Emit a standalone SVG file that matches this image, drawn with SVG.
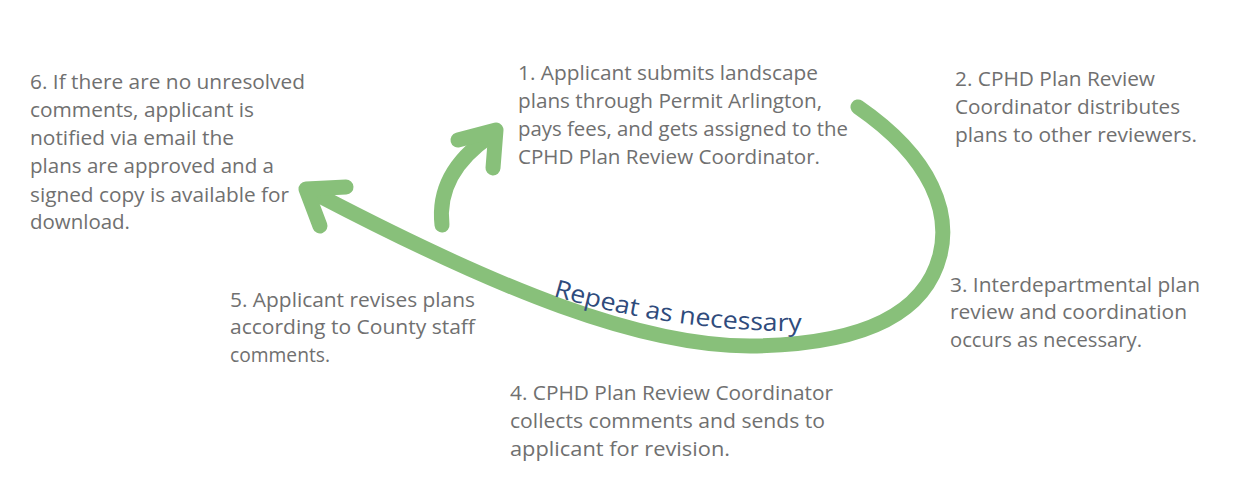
<svg xmlns="http://www.w3.org/2000/svg" width="1234" height="499" viewBox="0 0 1234 499">
<defs>
<style>
.t{font-family:"Open Sans","Liberation Sans",sans-serif;font-weight:400;font-size:20.5px;fill:#707070}
.arr{fill:none;stroke:#88c07a;stroke-width:15;stroke-linecap:round;stroke-linejoin:round}
.rep{font-family:"Open Sans","Liberation Sans",sans-serif;font-size:24.5px;fill:#2f4b7c}
</style>
<path id="repPath" d="M553,296 Q680,333 810,331"/>
</defs>
<rect width="1234" height="499" fill="#ffffff"/>
<g id="connectors">
<path class="arr" d="M858,107 C935,160 950,215 940,255 C925,315 860,345 750,346 C640,346 500,290 320,196"/>
<polyline class="arr" points="346,187 306,189 320,226"/>
<path class="arr" d="M442,225 C438,190 455,160 490,136"/>
<polyline class="arr" points="458,140 496,130 493,168"/>
<text class="rep"><textPath href="#repPath" textLength="252" lengthAdjust="spacingAndGlyphs">Repeat as necessary</textPath></text>
</g>
<g id="step1">
<text class="t" x="518" y="80" textLength="300" lengthAdjust="spacingAndGlyphs">1. Applicant submits landscape</text>
<text class="t" x="518" y="108" textLength="304" lengthAdjust="spacingAndGlyphs">plans through Permit Arlington,</text>
<text class="t" x="518" y="136" textLength="330" lengthAdjust="spacingAndGlyphs">pays fees, and gets assigned to the</text>
<text class="t" x="518" y="164" textLength="302" lengthAdjust="spacingAndGlyphs">CPHD Plan Review Coordinator.</text>
</g>
<g id="step2">
<text class="t" x="955" y="86" textLength="200" lengthAdjust="spacingAndGlyphs">2. CPHD Plan Review</text>
<text class="t" x="955" y="114" textLength="225" lengthAdjust="spacingAndGlyphs">Coordinator distributes</text>
<text class="t" x="955" y="142" textLength="242" lengthAdjust="spacingAndGlyphs">plans to other reviewers.</text>
</g>
<g id="step3">
<text class="t" x="950" y="292" textLength="250" lengthAdjust="spacingAndGlyphs">3. Interdepartmental plan</text>
<text class="t" x="950" y="319" textLength="237" lengthAdjust="spacingAndGlyphs">review and coordination</text>
<text class="t" x="950" y="347" textLength="192" lengthAdjust="spacingAndGlyphs">occurs as necessary.</text>
</g>
<g id="step4">
<text class="t" x="510" y="400" textLength="323" lengthAdjust="spacingAndGlyphs">4. CPHD Plan Review Coordinator</text>
<text class="t" x="510" y="428" textLength="315" lengthAdjust="spacingAndGlyphs">collects comments and sends to</text>
<text class="t" x="510" y="456" textLength="220" lengthAdjust="spacingAndGlyphs">applicant for revision.</text>
</g>
<g id="step5">
<text class="t" x="230" y="307" textLength="245" lengthAdjust="spacingAndGlyphs">5. Applicant revises plans</text>
<text class="t" x="230" y="334" textLength="245" lengthAdjust="spacingAndGlyphs">according to County staff</text>
<text class="t" x="230" y="362" textLength="100" lengthAdjust="spacingAndGlyphs">comments.</text>
</g>
<g id="step6">
<text class="t" x="30" y="89" textLength="275" lengthAdjust="spacingAndGlyphs">6. If there are no unresolved</text>
<text class="t" x="30" y="117" textLength="224" lengthAdjust="spacingAndGlyphs">comments, applicant is</text>
<text class="t" x="30" y="145" textLength="204" lengthAdjust="spacingAndGlyphs">notified via email the</text>
<text class="t" x="30" y="173" textLength="244" lengthAdjust="spacingAndGlyphs">plans are approved and a</text>
<text class="t" x="30" y="202" textLength="259" lengthAdjust="spacingAndGlyphs">signed copy is available for</text>
<text class="t" x="30" y="229" textLength="100" lengthAdjust="spacingAndGlyphs">download.</text>
</g>
</svg>
